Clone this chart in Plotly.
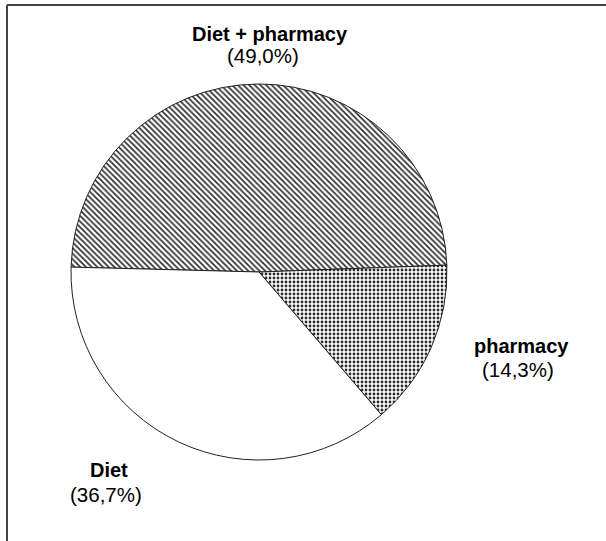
import plotly.graph_objects as go

labels = ["Diet + pharmacy", "pharmacy", "Diet"]
values = [49.0, 14.3, 36.7]
patterns = ["\\", ".", ""]

def pct(v):
    return "(" + f"{v:.1f}".replace(".", ",") + "%)"

W, H = 606, 541
cx, cy, r = 259, 272, 188

fig = go.Figure(go.Pie(
    labels=labels,
    values=values,
    sort=False,
    direction="clockwise",
    rotation=-88.5,
    textinfo="none",
    hoverinfo="label+percent",
    showlegend=False,
    marker=dict(
        colors=["white", "white", "white"],
        line=dict(color="#222222", width=1),
        pattern=dict(shape=patterns, fgcolor="#2a2a2a", bgcolor="white",
                     size=4, solidity=0.4),
    ),
    domain=dict(x=[(cx - r) / W, (cx + r) / W],
                y=[1 - (cy + r) / H, 1 - (cy - r) / H]),
))

# label positions (pixels): bold name centre, percentage centre
label_pos = [(270, 34, 263, 56), (521, 346, 518, 369), (109, 470, 106, 494)]
font_name = "Liberation Sans, Arial, sans-serif"
for lab, v, (x1, y1, x2, y2) in zip(labels, values, label_pos):
    fig.add_annotation(x=x1 / W, y=1 - y1 / H, xref="paper", yref="paper",
                       xanchor="center", yanchor="middle", borderpad=0,
                       text=f"<b>{lab}</b>", showarrow=False,
                       font=dict(family=font_name, size=20, color="black"))
    fig.add_annotation(x=x2 / W, y=1 - y2 / H, xref="paper", yref="paper",
                       xanchor="center", yanchor="middle", borderpad=0,
                       text=pct(v), showarrow=False,
                       font=dict(family=font_name, size=20.5, color="black"))

# frame: top and left lines
fig.add_shape(type="line", xref="paper", yref="paper",
              x0=7 / W, x1=1, y0=1 - 5 / H, y1=1 - 5 / H,
              line=dict(color="#444444", width=2))
fig.add_shape(type="line", xref="paper", yref="paper",
              x0=7 / W, x1=7 / W, y0=1 - 5 / H, y1=0,
              line=dict(color="#444444", width=2))

fig.update_layout(width=W, height=H, margin=dict(l=0, r=0, t=0, b=0),
                  paper_bgcolor="white", plot_bgcolor="white")
fig.write_html("out.html", config={"displayModeBar": False},
               post_script="document.body.style.margin='0';document.body.style.overflow='hidden';")
